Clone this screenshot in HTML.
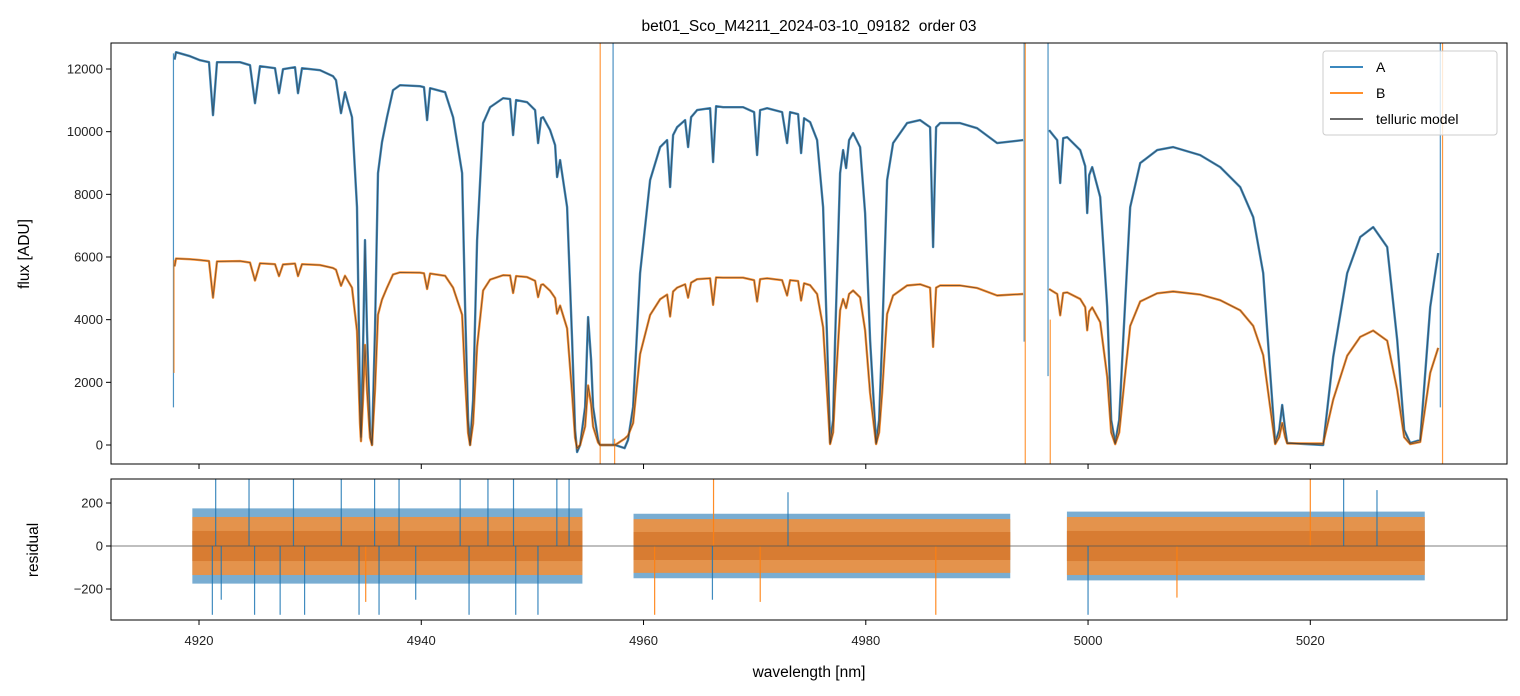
<!DOCTYPE html>
<html><head><meta charset="utf-8"><title>bet01_Sco order 03</title>
<style>
html,body{margin:0;padding:0;background:#fff;}
svg{display:block;font-family:"Liberation Sans","DejaVu Sans",sans-serif;}
</style></head>
<body>
<svg id="chart" width="1520" height="696" viewBox="0 0 1520 696" xmlns="http://www.w3.org/2000/svg">
<defs>
<clipPath id="clipTop"><rect x="111" y="43" width="1396" height="421"/></clipPath>
<clipPath id="clipBot"><rect x="111" y="479" width="1396" height="141"/></clipPath>
</defs>
<text x="809" y="31" text-anchor="middle" font-size="15.5" fill="#000" style="white-space:pre">bet01_Sco_M4211_2024-03-10_09182  order 03</text>
<g id="topG"></g>
<g id="botG"></g>
<text transform="translate(29,254) rotate(-90)" text-anchor="middle" font-size="15.5">flux [ADU]</text>
<text transform="translate(38,550) rotate(-90)" text-anchor="middle" font-size="15.5">residual</text>
<text x="809" y="677" text-anchor="middle" font-size="15.5">wavelength [nm]</text>
</svg>
<script>
const wavelengths=[4917.8,4917.93,4919.19,4920.09,4920.9,4921.26,4921.62,4923.69,4924.59,4925.04,4925.49,4926.84,4927.2,4927.56,4928.64,4928.91,4929.27,4930.89,4932.06,4932.33,4932.78,4933.14,4933.77,4934.22,4934.49,4934.58,4934.76,4934.94,4935.12,4935.39,4935.57,4935.84,4936.11,4936.47,4936.92,4937.46,4938.09,4939.89,4940.25,4940.52,4940.79,4942.14,4942.86,4943.67,4943.94,4944.21,4944.39,4944.66,4945.02,4945.56,4946.19,4947.36,4947.99,4948.26,4948.53,4949.52,4950.24,4950.51,4950.78,4950.96,4951.59,4952.04,4952.22,4952.49,4953.12,4953.57,4953.84,4954.02,4954.29,4954.74,4955.01,4955.28,4955.46,4955.91,4956.09,4957.44,4958.3,4958.6,4959.06,4959.69,4960.59,4961.49,4962.12,4962.39,4962.66,4963.02,4963.74,4964.01,4964.28,4964.82,4965.99,4966.26,4966.53,4967.16,4968.96,4969.95,4970.22,4970.49,4971.12,4972.47,4972.92,4973.19,4973.91,4974.18,4974.45,4974.99,4975.62,4976.16,4976.52,4976.79,4977.06,4977.24,4977.69,4977.96,4978.23,4978.5,4978.86,4979.49,4979.94,4980.39,4980.93,4981.2,4981.47,4981.92,4982.46,4983.72,4984.89,4985.79,4986.06,4986.33,4986.69,4988.49,4990.02,4991.82,4994.16,4995.3,4996.5,4996.86,4997.22,4997.49,4997.76,4998.12,4999.29,4999.74,4999.92,5000.1,5000.37,5001.09,5001.72,5002.08,5002.44,5002.8,5003.16,5003.79,5004.69,5006.22,5007.66,5010.09,5011.89,5013.69,5014.86,5015.76,5016.39,5016.84,5017.2,5017.47,5017.74,5017.92,5021.16,5022.06,5023.32,5024.49,5025.66,5026.92,5027.82,5028.45,5028.99,5029.89,5030.79,5031.51];
const fluxA=[12300,12537,12409,12282,12218,10527,12218,12218,12122,10910,12090,12026,11229,11994,12058,11229,12026,11963,11771,11644,10591,11261,10463,7592,1436,255,3030,6540,3669,479,0,3669,8677,9666,10463,11325,11484,11452,11420,10368,11388,11261,10463,8677,4402,798,0,1436,6540,10272,10782,11069,11040,9889,11006,10942,10687,9634,10431,10463,10049,9570,8549,9092,7592,3350,479,-223,0,1212,4083,2712,1212,160,0,0,-100,160,1212,5487,8454,9506,9730,8230,9889,10144,10368,9506,10463,10687,10750,9028,10814,10782,10782,10623,9251,10687,10750,10623,9634,10623,10559,9315,10431,10304,9730,7592,3350,64,798,3350,8677,9411,8836,9730,9953,9506,7401,3350,64,798,3350,8454,9634,10272,10368,10144,6316,10144,10272,10272,10112,9634,9730,null,10049,9889,9730,8358,9793,9825,9411,8900,7401,8613,8868,7911,4402,798,64,798,3350,7592,8996,9411,9506,9251,8868,8230,7273,5487,2297,64,479,1276,479,64,0,2807,5487,6635,6954,6316,3350,479,64,160,4402,6125];
const fluxB=[5700,5950,5930,5900,5870,4700,5860,5870,5820,5250,5800,5770,5390,5760,5790,5390,5770,5740,5650,5590,5080,5400,5020,3640,690,120,1450,3190,1760,230,0,1760,4160,4640,5020,5440,5510,5500,5480,4980,5470,5400,5020,4160,2110,380,0,690,3140,4930,5280,5420,5410,4850,5390,5360,5240,4720,5110,5130,4920,4690,4190,4450,3720,1640,230,-100,0,590,1900,1300,590,80,0,0,200,300,700,2900,4150,4650,4800,4100,4900,5020,5130,4700,5180,5290,5320,4470,5350,5340,5340,5260,4580,5290,5320,5260,4770,5260,5230,4610,5160,5100,4820,3760,1660,30,400,1660,4300,4660,4370,4820,4930,4710,3660,1660,30,400,1660,4180,4770,5090,5130,5020,3130,5020,5090,5090,5010,4770,4820,null,4980,4900,4820,4140,4850,4870,4660,4400,3660,4260,4390,3920,2180,400,30,400,1660,3800,4580,4840,4900,4800,4620,4300,3800,2870,1200,30,250,700,250,50,50,1450,2850,3450,3650,3330,1760,250,30,100,2300,3100];
const spikeAWave=[4917.7,4957.26,4994.25,4996.4,5031.7];
const spikeALow=[1200,0,3300,2200,1200];
const spikeAHigh=[12500,13500,13500,13500,13500];
const spikeBWave=[4917.75,4956.1,4957.4,4994.35,4996.6,5031.9];
const spikeBLow=[2300,-1000,-1000,-1000,-1000,-1000];
const spikeBHigh=[5900,13500,200,13500,4000,13500];
const residSegStart=[4919.4,4959.1,4998.1];
const residSegEnd=[4954.5,4993.0,5030.3];
const residAmpA=[175,150,160];
const residAmpB=[135,125,135];
const residCoreB=[70,65,70];
const residSpikeAWave=[4921.2,4921.5,4922.0,4924.5,4925.0,4927.3,4928.5,4929.5,4932.8,4934.4,4935.8,4936.2,4938.0,4939.5,4943.5,4944.3,4946.0,4948.3,4948.5,4950.5,4952.2,4953.3,4966.2,4973.0,5000.0,5023.0,5026.0];
const residSpikeAVal=[-320,320,-250,320,-320,-320,320,-320,320,-320,320,-320,320,-250,320,-320,320,320,-320,-320,320,320,-250,250,-320,320,260];
const residSpikeBWave=[4961.0,4966.3,4970.5,4986.3,4935.0,5020.0,5008.0];
const residSpikeBVal=[-320,320,-260,-320,-260,320,-240];
const xTicks=[4920,4940,4960,4980,5000,5020];
const yTicksTop=[0,2000,4000,6000,8000,10000,12000];
const yTicksBot=[-200,0,200];

const NS='http://www.w3.org/2000/svg';
const X0=111,X1=1507,WMIN=4912.08,WMAX=5037.7;
function xs(w){return X0+(w-WMIN)/(WMAX-WMIN)*(X1-X0);}
function yt(f){return 445-f*0.031333;}
function yb(r){return 546-r*0.215;}
function mk(tag,attrs,parent){const e=document.createElementNS(NS,tag);for(const k in attrs)e.setAttribute(k,attrs[k]);parent.appendChild(e);return e;}
const topG=document.getElementById('topG'),botG=document.getElementById('botG');

function pathFrom(vals){let d='',pen=false;for(let i=0;i<wavelengths.length;i++){const v=vals[i];if(v===null||v===undefined){pen=false;continue;}d+=(pen?'L':'M')+xs(wavelengths[i]).toFixed(1)+' '+yt(v).toFixed(1);pen=true;}return d;}
const gT=mk('g',{'clip-path':'url(#clipTop)'},topG);
const lA=mk('path',{d:pathFrom(fluxA),fill:'none',stroke:'#1f77b4','stroke-width':2.4,'stroke-opacity':0.85,'stroke-linejoin':'round'},gT);


const lB=mk('path',{d:pathFrom(fluxB),fill:'none',stroke:'#ff7f0e','stroke-width':2.4,'stroke-opacity':0.85,'stroke-linejoin':'round'},gT);


for(let i=0;i<spikeAWave.length;i++){const s=mk('line',{x1:xs(spikeAWave[i]),x2:xs(spikeAWave[i]),y1:yt(spikeALow[i]),y2:yt(spikeAHigh[i]),stroke:'#1f77b4','stroke-width':1.2,'stroke-opacity':0.8},gT);

}
for(let i=0;i<spikeBWave.length;i++){const s=mk('line',{x1:xs(spikeBWave[i]),x2:xs(spikeBWave[i]),y1:yt(spikeBLow[i]),y2:yt(spikeBHigh[i]),stroke:'#ff7f0e','stroke-width':1.2,'stroke-opacity':0.8},gT);

}
const mA=mk('path',{d:pathFrom(fluxA),fill:'none',stroke:'#333','stroke-width':0.9,'stroke-opacity':0.65,'stroke-linejoin':'round'},gT);


const mB=mk('path',{d:pathFrom(fluxB),fill:'none',stroke:'#333','stroke-width':0.9,'stroke-opacity':0.65,'stroke-linejoin':'round'},gT);



const gB=mk('g',{'clip-path':'url(#clipBot)'},botG);
for(let i=0;i<residSegStart.length;i++){
 const xa=xs(residSegStart[i]),xb=xs(residSegEnd[i]);
 const ra=mk('rect',{x:xa,width:xb-xa,y:yb(residAmpA[i]),height:yb(-residAmpA[i])-yb(residAmpA[i]),fill:'#1f77b4','fill-opacity':0.6},gB);
 
 
 const rb=mk('rect',{x:xa,width:xb-xa,y:yb(residAmpB[i]),height:yb(-residAmpB[i])-yb(residAmpB[i]),fill:'#ff8c2a','fill-opacity':0.8},gB);
 
 
 const rc=mk('rect',{x:xa,width:xb-xa,y:yb(residCoreB[i]),height:yb(-residCoreB[i])-yb(residCoreB[i]),fill:'#d6782e','fill-opacity':0.85},gB);
 
 
}
for(let i=0;i<residSpikeAWave.length;i++){const s=mk('line',{x1:xs(residSpikeAWave[i]),x2:xs(residSpikeAWave[i]),y1:yb(0),y2:yb(residSpikeAVal[i]),stroke:'#1f77b4','stroke-width':1.2,'stroke-opacity':0.85},gB);

}
for(let i=0;i<residSpikeBWave.length;i++){const s=mk('line',{x1:xs(residSpikeBWave[i]),x2:xs(residSpikeBWave[i]),y1:yb(0),y2:yb(residSpikeBVal[i]),stroke:'#ff7f0e','stroke-width':1.2,'stroke-opacity':0.9},gB);

}
const z=mk('line',{x1:X0,x2:X1,y1:yb(0),y2:yb(0),stroke:'#555','stroke-width':0.8},botG);



const f1=mk('rect',{x:X0,y:43,width:X1-X0,height:421,fill:'none',stroke:'#000','stroke-width':1},topG);


const f2=mk('rect',{x:X0,y:479,width:X1-X0,height:141,fill:'none',stroke:'#000','stroke-width':1},botG);


xTicks.forEach(t=>{const x=xs(t);
 const a=mk('line',{x1:x,x2:x,y1:464,y2:469,stroke:'#000'},topG);
 
 
 const b=mk('line',{x1:x,x2:x,y1:620,y2:625,stroke:'#000'},botG);
 
 
 const l=mk('text',{x:x,y:645,'text-anchor':'middle','font-size':13,fill:'#222'},botG);l.textContent=t;
 
 });
yTicksTop.forEach(t=>{const y=yt(t);
 const a=mk('line',{x1:X0-5,x2:X0,y1:y,y2:y,stroke:'#000'},topG);
 
 
 const l=mk('text',{x:X0-8,y:y+4.5,'text-anchor':'end','font-size':13,fill:'#222'},topG);l.textContent=t;
 
 });
yTicksBot.forEach(t=>{const y=yb(t);
 const a=mk('line',{x1:X0-5,x2:X0,y1:y,y2:y,stroke:'#000'},botG);
 
 
 const l=mk('text',{x:X0-8,y:y+4.5,'text-anchor':'end','font-size':13,fill:'#222'},botG);l.textContent=(t<0?'\u2212'+(-t):t);
 
 });

const lg=mk('g',{},topG);


mk('rect',{x:1323,y:51,width:174,height:84,rx:3,fill:'#fff','fill-opacity':0.8,stroke:'#ccc'},lg);
[['A','#1f77b4',67],['B','#ff7f0e',93],['telluric model','#555',119]].forEach(e=>{
 const g=mk('g',{},lg);
 
 
 mk('line',{x1:1330,x2:1363,y1:e[2],y2:e[2],stroke:e[1],'stroke-width':1.8},g);
 const t=mk('text',{x:1376,y:e[2]+5,'font-size':14},g);t.textContent=e[0];});
</script>
</body></html>
